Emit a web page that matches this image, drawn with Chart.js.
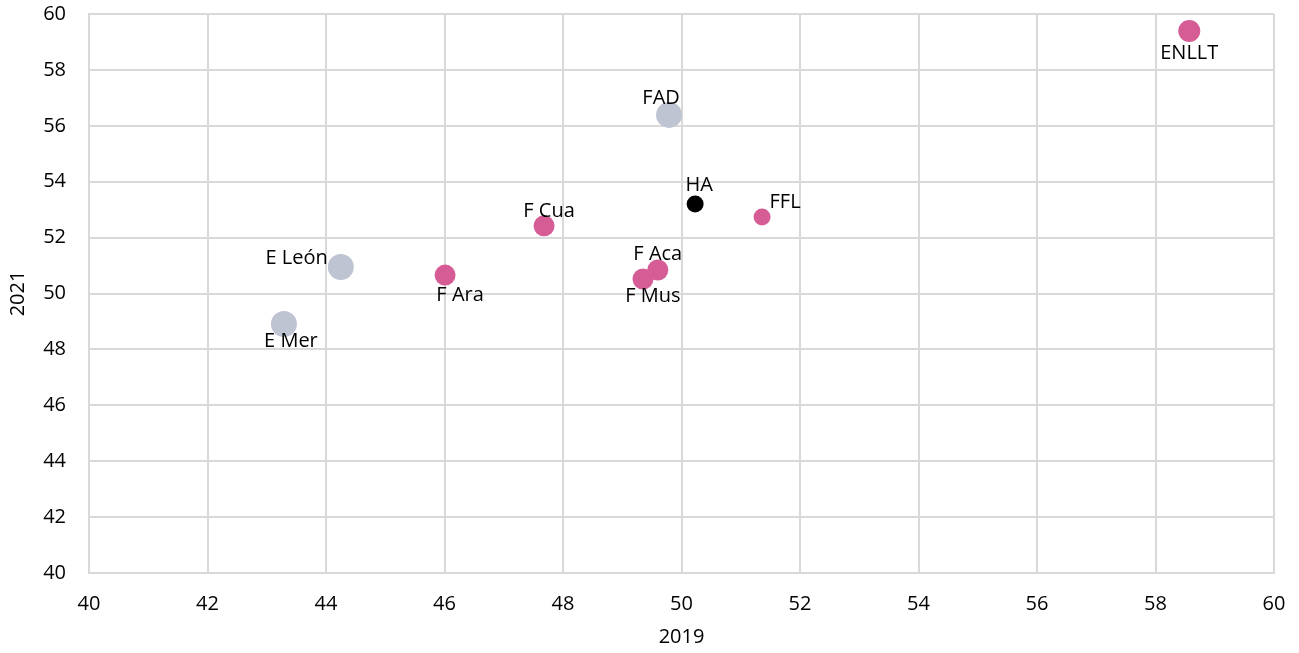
<!DOCTYPE html>
<html>
<head>
<meta charset="utf-8">
<script src="https://cdn.jsdelivr.net/npm/chart.js@4.4.1/dist/chart.umd.min.js"></script>
<style>
  html, body { margin: 0; padding: 0; background: #fff; }
  #wrap { width: 1299px; height: 653px; }
</style>
</head>
<body>
<div id="wrap"><canvas id="chart"></canvas></div>
<script>
// values
const names = ['ENLLT', 'FAD', 'HA', 'FFL', 'F Cua', 'F Aca', 'F Mus', 'F Ara', 'E León', 'E Mer']
const val2019 = [58.57, 49.79, 50.23, 51.36, 47.68, 49.60, 49.35, 46.01, 44.25, 43.29]
const val2021 = [59.39, 56.39, 53.20, 52.74, 52.42, 50.84, 50.52, 50.66, 50.95, 48.91]
const kinds = ['F', 'E', 'H', 'F', 'F', 'F', 'F', 'F', 'E', 'E']

const colors = { F: '#d65c96', E: '#bec4d1', H: '#000000' }
const radii = [11, 13, 8.5, 8.5, 10.5, 10.5, 10.5, 10.5, 13, 13]

// label placement: [dx, dy, align]
const labelPos = {
  'ENLLT': [0, 22, 'center'],
  'FAD': [-8, -17, 'center'],
  'HA': [4, -19, 'center'],
  'FFL': [23, -15, 'center'],
  'F Cua': [5, -15, 'center'],
  'F Aca': [0, -16, 'center'],
  'F Mus': [10, 17, 'center'],
  'F Ara': [15, 20, 'center'],
  'E León': [-13, -9, 'right'],
  'E Mer': [7, 17, 'center']
}

const pointLabels = {
  id: 'pointLabels',
  afterDatasetsDraw(chart) {
    const ctx = chart.ctx
    const meta = chart.getDatasetMeta(0)
    ctx.save()
    ctx.font = '20px "Open Sans"'
    ctx.fillStyle = '#000'
    ctx.textBaseline = 'middle'
    meta.data.forEach((pt, i) => {
      const p = labelPos[names[i]]
      ctx.textAlign = p[2]
      ctx.fillText(names[i], pt.x + p[0], pt.y + p[1])
    })
    ctx.restore()
  }
}

const font = { family: 'Open Sans', size: 20 }

new Chart(document.getElementById('chart'), {
  type: 'scatter',
  data: {
    datasets: [{
      data: names.map((n, i) => ({ x: val2019[i], y: val2021[i] })),
      backgroundColor: kinds.map(k => colors[k]),
      borderWidth: 0,
      pointRadius: radii,
      pointHoverRadius: radii
    }]
  },
  options: {
    responsive: true,
    maintainAspectRatio: false,
    animation: false,
    layout: { padding: { top: 14, right: 25, left: 0, bottom: 0 } },
    plugins: {
      legend: { display: false },
      tooltip: { enabled: false }
    },
    scales: {
      x: {
        min: 40, max: 60,
        ticks: { stepSize: 2, color: '#000', font: font, padding: 19 },
        grid: { color: '#d9d9d9', lineWidth: 2, drawTicks: false },
        border: { color: '#d9d9d9', width: 2 },
        title: { display: true, text: '2019', color: '#000', font: font, padding: { top: 0, bottom: 4 } },
        afterFit: (s) => { s.height = 80; s.paddingLeft = 0; s.paddingRight = 0 }
      },
      y: {
        min: 40, max: 60,
        ticks: { stepSize: 2, color: '#000', font: font, padding: 23 },
        grid: { color: '#d9d9d9', lineWidth: 2, drawTicks: false },
        border: { color: '#d9d9d9', width: 2 },
        title: { display: true, text: '2021', color: '#000', font: font, padding: { top: 6, bottom: 0 } },
        afterFit: (s) => { s.width = 89; s.paddingTop = 0; s.paddingBottom = 0 }
      }
    }
  },
  plugins: [pointLabels]
})
</script>
</body>
</html>
